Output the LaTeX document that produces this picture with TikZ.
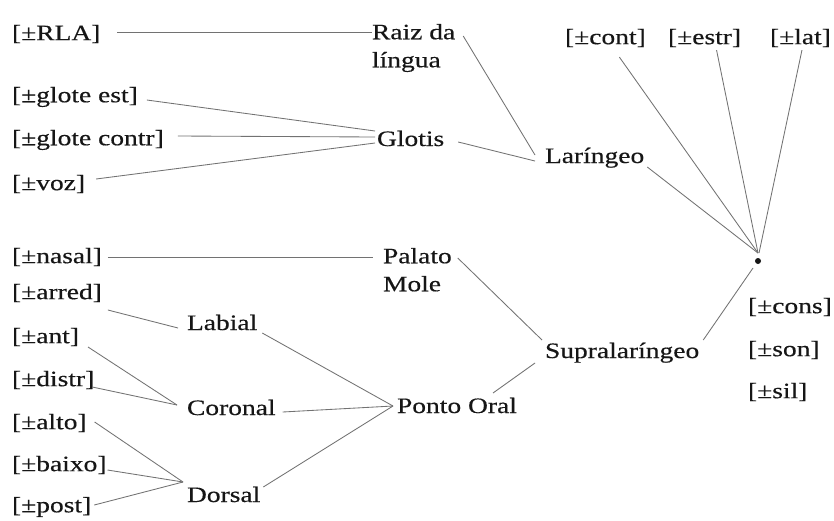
\documentclass[tikz,border=0pt]{standalone}
\usepackage{fontspec}
\setmainfont{Liberation Serif}[FakeStretch=1.25,FakeBold=0.4]
\usetikzlibrary{calc}
\definecolor{ink}{HTML}{161616}
\definecolor{wire}{HTML}{727272}
\begin{document}
\begin{tikzpicture}[x=1pt,y=-1pt,
  lbl/.style={inner sep=0pt,outer sep=0pt,text=ink,
    font=\fontsize{22}{28}\selectfont},
  feat/.style={lbl,anchor=west},
  word/.style={lbl,anchor=base west},
  twoline/.style={lbl,anchor=north west,align=left},
  wirestyle/.style={draw=wire,line width=0.85pt}]
\useasboundingbox[fill=white] (0,0) rectangle (834,520);

% ---- laryngeal branch ----
\node[feat]    (rla)    at (12,34)  {[±RLA]};
\node[twoline] (raiz)   at (372,24) {Raiz da\\língua};
\node[feat]    (gest)   at (12,97)  {[±glote est]};
\node[feat]    (gcon)   at (12,140) {[±glote contr]};
\node[feat]    (voz)    at (12,184) {[±voz]};
\node[word]    (glotis) at (377,146) {Glotis};
\node[word]    (lar)    at (545,163) {Laríngeo};

% ---- root features ----
\node[feat] (cont) at (565,38) {[±cont]};
\node[feat] (estr) at (668,38) {[±estr]};
\node[feat] (lat)  at (770,38) {[±lat]};
\node[circle,fill=ink,inner sep=0pt,minimum size=6pt] (dot) at (758,261) {};
\node[feat] (cons) at (748,307) {[±cons]};
\node[feat] (son)  at (748,350) {[±son]};
\node[feat] (sil)  at (748,392) {[±sil]};

% ---- supralaryngeal branch ----
\node[word]    (supra)   at (545,358) {Supralaríngeo};
\node[twoline] (palato)  at (383,248) {Palato\\Mole};
\node[feat]    (nasal)   at (12,257)  {[±nasal]};
\node[word]    (ponto)   at (397,413) {Ponto Oral};
\node[feat]    (arred)   at (12,293)  {[±arred]};
\node[word]    (labial)  at (187,330) {Labial};
\node[feat]    (ant)     at (12,337)  {[±ant]};
\node[feat]    (distr)   at (12,380)  {[±distr]};
\node[word]    (coronal) at (187,415) {Coronal};
\node[feat]    (alto)    at (12,423)  {[±alto]};
\node[feat]    (baixo)   at (12,465)  {[±baixo]};
\node[feat]    (post)    at (12,507)  {[±post]};
\node[word]    (dorsal)  at (187,502) {Dorsal};

% junction points where several branches meet
\coordinate (glotisJ) at ($(glotis.base west)+(-2,-9)$);
\coordinate (dotJ)    at ($(dot.center)+(0,-8)$);
\coordinate (pontoJ)  at ($(ponto.base west)+(-4,-7)$);
\coordinate (coronalJ) at ($(coronal.base west)+(-10,-10)$);
\coordinate (dorsalJ) at ($(dorsal.base west)+(-4,-20)$);

\begin{scope}[wirestyle]
  \draw ($(rla.east)+(17,-2)$) -- ($(raiz.north west)+(0,8)$);
  \draw ($(raiz.north east)+(8,12)$) -- ($(lar.base west)+(-10,-8)$);
  \draw ($(gest.east)+(9,3)$) -- ($(glotisJ)+(0,-6)$);
  \draw ($(gcon.east)+(14,-4)$) -- (glotisJ);
  \draw ($(voz.east)+(11,-5)$) -- ($(glotisJ)+(0,6)$);
  \draw ($(glotis.base east)+(14,-4)$) -- ($(lar.base west)+(-10,-2)$);
  \draw ($(lar.base east)+(3,4)$) -- (dotJ);
  \draw ($(cont.south)+(14,10)$) -- (dotJ);
  \draw ($(estr.south)+(12,3)$) -- (dotJ);
  \draw ($(lat.south)+(1.5,3)$) -- ($(dotJ)+(1,0)$);
  \draw ($(dot.center)+(-5,7)$) -- ($(supra.base east)+(4,-18)$);
  \draw ($(palato.north east)+(6,10)$) -- ($(supra.base west)+(-3,-18)$);
  \draw ($(nasal.east)+(6,0)$) -- ($(palato.north west)+(-10,9)$);
  \draw ($(ponto.base west)+(96,-20)$) -- ($(supra.base west)+(-10,5)$);
  \draw ($(arred.east)+(6,17)$) -- ($(labial.base west)+(-9,-2)$);
  \draw ($(labial.base east)+(5,3)$) -- (pontoJ);
  \draw ($(ant.east)+(9,10)$) -- (coronalJ);
  \draw ($(distr.east)+(-2,7)$) -- (coronalJ);
  \draw ($(coronal.base east)+(7,-3)$) -- (pontoJ);
  \draw ($(alto.east)+(8,-1)$) -- (dorsalJ);
  \draw ($(baixo.east)+(1,5)$) -- (dorsalJ);
  \draw ($(post.east)+(3,-2)$) -- (dorsalJ);
  \draw ($(dorsal.base east)+(3,-15)$) -- (pontoJ);
\end{scope}
\end{tikzpicture}
\end{document}
